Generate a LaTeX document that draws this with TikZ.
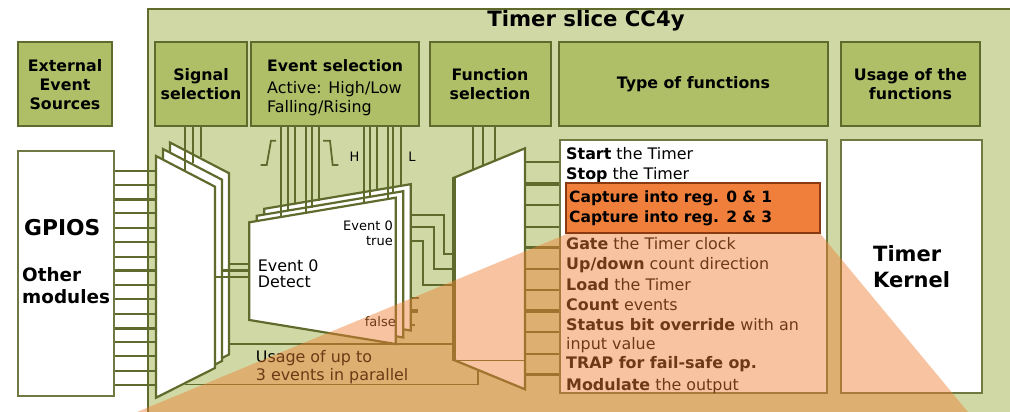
\documentclass[tikz,border=0pt]{standalone}
\usepackage{fontspec}
\setmainfont{DejaVu Sans}
\definecolor{panelgreen}{HTML}{D0D9A5}
\definecolor{headgreen}{HTML}{AEBF68}
\definecolor{linegreen}{HTML}{5F6B2D}
\definecolor{capfill}{HTML}{F07F3C}
\definecolor{capline}{HTML}{8A3A10}
\definecolor{beam}{HTML}{EE7E32}
\tikzset{
	headbox/.style={draw=linegreen, line width=2pt, fill=headgreen, align=center, inner sep=0pt, font=\fontsize{15.8}{19}\selectfont\bfseries},
	whitebox/.style={draw=linegreen!90, line width=2pt, fill=white, inner sep=0pt},
	sheet/.style={draw=linegreen, line width=2.2pt, fill=white, line join=miter},
	bus/.style={draw=linegreen, line width=2.2pt},
	thickbus/.style={draw=linegreen, line width=3.2pt},
	label/.style={inner sep=0pt, anchor=base west, font=\fontsize{15.9}{17}\selectfont},
	small/.style={inner sep=0pt, anchor=base east, font=\fontsize{13}{15}\selectfont}
}
\begin{document}
\begin{tikzpicture}[x=1pt,y=-1pt]
	\useasboundingbox (0,0) rectangle (1010,412);
	\node[draw=linegreen, line width=2pt, fill=panelgreen, anchor=north west, minimum width=863, minimum height=410] (slice) at (147,8) {};
	\node[inner sep=0pt, anchor=base, font=\fontsize{21.2}{23}\selectfont\bfseries] (title) at (586,27) {Timer slice CC4y};

	\node[headbox, minimum width=94, minimum height=84] (ext) at (65,84) {};
	\node[headbox, minimum width=92, minimum height=84] (sigsel) at (201,84) {Signal\\selection};
	\node[headbox, minimum width=168, minimum height=84] (evsel) at (335,84) {};
	\node[headbox, minimum width=121, minimum height=84] (funsel) at (490,84) {Function\\selection};
	\node[headbox, minimum width=269, minimum height=84] (types) at (693.5,84) {Type of functions};
	\node[headbox, minimum width=139, minimum height=84] (usage) at (910.5,84) {Usage of the\\functions};
	\node[inner sep=0pt, align=center, font=\fontsize{15.8}{19}\selectfont\bfseries] (exttxt) at (65,85) {External\\Event\\Sources};
	\node[label, font=\fontsize{15.7}{19}\selectfont\bfseries] (evhead) at (267,72) {Event selection};
	\node[label] (evact) at (267,93) {Active: High/Low};
	\node[label] (evedge) at (267,113) {Falling/Rising};

	\node[whitebox, minimum width=96, minimum height=245] (gpios) at (66,273.5) {};
	\node[whitebox, minimum width=267, minimum height=253] (funcs) at (693.5,266.5) {};
	\node[whitebox, minimum width=141, minimum height=253] (kernel) at (911,266.5) {};

	\node[label, font=\fontsize{21.8}{23}\selectfont\bfseries] (gpiotxt) at (24,235) {GPIOS};
	\node[label, font=\fontsize{18.4}{22}\selectfont\bfseries] (othertxt) at (22,281) {Other};
	\node[label, font=\fontsize{18.4}{22}\selectfont\bfseries] (modtxt) at (22,303) {modules};
	\node[label, font=\fontsize{21}{26}\selectfont\bfseries] (kerntxt) at (873,261.7) {Timer};
	\node[label, font=\fontsize{21}{26}\selectfont\bfseries] (kerntxtb) at (873,287) {Kernel};

	\coordinate (sigleft) at (156,0);
	\coordinate (fmuxleft) at (454,0);
	\coordinate (fmuxright) at (525,0);

	\foreach \y in {170.7,184.7,212.7,227.7,242,256.7,284.7,299,313.7,341.7,356,370.7,385}
		\draw[bus] (gpios.east |- 0,\y) -- (sigleft |- 0,\y);
	\foreach \y in {199.3,270.3,328.3}
		\draw[thickbus] (gpios.east |- 0,\y) -- (sigleft |- 0,\y);

	\draw[bus] (230,344.3) -- (fmuxleft |- 0,344.3);
	\draw[bus, line width=1.8pt] (185,384.5) -- (478,384.5) -- (478,365);

	\foreach \dx/\dy in {14/-13.5,7/-7,0/0}
		\draw[sheet, shift={(\dx,\dy)}] (156,156) -- (215,186.7) -- (215,368) -- (156,397.7) -- cycle;

	\foreach \x/\y in {185/170.5,192.7/163,200.7/156.5}
		\draw[bus] (\x,0 |- sigsel.south) -- (\x,\y);

	\draw[bus] (230,264.3) -- (249,264.3);
	\draw[thickbus] (222,270.5) -- (249,270.5);
	\draw[bus] (215,276.7) -- (249,276.7);

	\draw[bus] (411,215) -- (444.3,215) -- (444.3,254) -- (fmuxleft |- 0,254);
	\draw[bus] (404,226.7) -- (433.7,226.7) -- (433.7,269) -- (fmuxleft |- 0,269);
	\draw[bus] (397,240.7) -- (422.7,240.7) -- (422.7,284.7) -- (fmuxleft |- 0,284.7);
	\draw[bus] (411,297.7) -- (419,297.7);
	\draw[thickbus] (404,311) -- (417.7,311);
	\draw[bus] (396,325) -- (415,325);

	\foreach \dx/\dy in {15/-13.5,7.5/-6.5,0/0}
		\draw[sheet, shift={(\dx,\dy)}] (249.3,222.3) -- (395.7,197.7) -- (395.7,344) -- (249.3,320) -- cycle;

	\foreach \x/\y in {281/217,288/211,294.7/204.3,306/212.7,312.3/207.7,319/200.7,364/202.7,370/196.7,376.7/190,388.3/198,393.3/193,400.7/185}
		\draw[bus] (\x,0 |- evsel.south) -- (\x,\y);

	\draw[bus, line width=1.8pt] (260.7,165) -- (266.7,165) -- (271,140.7) -- (276,140.7);
	\draw[bus, line width=1.8pt] (323,140.7) -- (330,140.7) -- (332.7,165) -- (338.3,165);
	\node[small, anchor=base] (hightxt) at (354.5,161) {H};
	\node[small, anchor=base] (lowtxt) at (412,161) {L};

	\foreach \y in {162.3,205,227,269,290,331.7,354}
		\draw[bus] (fmuxright |- 0,\y) -- (funcs.west |- 0,\y);
	\foreach \y in {184,247.3,311,374.3}
		\draw[thickbus] (fmuxright |- 0,\y) -- (funcs.west |- 0,\y);

	\draw[sheet] (454,177.7) -- (525,148.3) -- (525,389.3) -- (454,360) -- cycle;
	\draw[thickbus] (454,177) -- (454,361);
	\draw[bus, line width=1pt] (454,360) -- (525,360);

	\foreach \x/\y in {473.3/170,483/166,495/161}
		\draw[bus] (\x,0 |- funsel.south) -- (\x,\y);

	\node[label] (ev0a) at (257.7,271) {Event 0};
	\node[label] (ev0b) at (257.7,287.7) {Detect};
	\node[small] (ev0c) at (393,230) {Event 0};
	\node[small] (ev0d) at (393,245) {true};
	\node[small] (ev0e) at (396,326.7) {false};
	\node[label] (par1) at (255.7,362) {Usage of up to};
	\node[label] (par2) at (255.7,380.7) {3 events in parallel};

	\foreach \y/\txt [count=\i] in {
		159.3/{\textbf{Start} the Timer},
		179.3/{\textbf{Stop} the Timer},
		249/{\textbf{Gate} the Timer clock},
		269/{\textbf{Up/down} count direction},
		290/{\textbf{Load} the Timer},
		310/{\textbf{Count} events},
		330/{\textbf{Status bit override} with an},
		349/{input value},
		368.7/{\textbf{TRAP for fail-safe op.}},
		390/{\textbf{Modulate} the output}}
		\node[label] (fn\i) at (566,\y) {\txt};

	\fill[beam, opacity=0.46] (571,232.3) -- (137,412) -- (968,412) -- (819,232.3) -- cycle;

	\node[draw=capline, line width=2pt, fill=capfill, anchor=north west, minimum width=254, minimum height=50, inner sep=0pt] (capture) at (565.3,182.3) {};
	\node[label, font=\fontsize{15.5}{17}\selectfont\bfseries] (cap1) at (569,202.7) {Capture into reg. 0 \& 1};
	\node[label, font=\fontsize{15.5}{17}\selectfont\bfseries] (cap2) at (569,222.7) {Capture into reg. 2 \& 3};
\end{tikzpicture}
\end{document}
